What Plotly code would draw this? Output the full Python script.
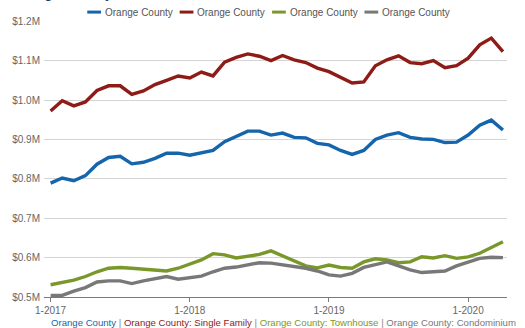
import plotly.graph_objects as go

months = list(range(40))
tick_vals = [0, 12, 24, 36]
tick_text = ["1-2017", "1-2018", "1-2019", "1-2020"]

y_vals = [0.5, 0.6, 0.7, 0.8, 0.9, 1.0, 1.1, 1.2]
y_text = ["$0.5M", "$0.6M", "$0.7M", "$0.8M", "$0.9M", "$1.0M", "$1.1M", "$1.2M"]

all_homes = [0.789, 0.802, 0.795, 0.808, 0.837, 0.854, 0.857, 0.838, 0.842, 0.852,
             0.865, 0.865, 0.860, 0.866, 0.872, 0.894, 0.907, 0.921, 0.921, 0.911,
             0.916, 0.905, 0.904, 0.890, 0.886, 0.872, 0.862, 0.872, 0.900, 0.911,
             0.917, 0.905, 0.901, 0.900, 0.892, 0.893, 0.911, 0.936, 0.949, 0.924]
single_family = [0.972, 0.998, 0.985, 0.995, 1.024, 1.036, 1.036, 1.014, 1.023, 1.039,
                 1.050, 1.061, 1.056, 1.071, 1.061, 1.096, 1.108, 1.117, 1.111, 1.100,
                 1.113, 1.102, 1.095, 1.081, 1.072, 1.057, 1.043, 1.046, 1.087, 1.102,
                 1.112, 1.095, 1.092, 1.100, 1.082, 1.087, 1.106, 1.140, 1.157, 1.123]
townhouse = [0.531, 0.536, 0.543, 0.552, 0.564, 0.573, 0.575, 0.573, 0.570, 0.569,
             0.566, 0.573, 0.584, 0.594, 0.610, 0.607, 0.599, 0.603, 0.608, 0.617,
             0.604, 0.592, 0.579, 0.574, 0.581, 0.575, 0.573, 0.589, 0.597, 0.594,
             0.587, 0.589, 0.602, 0.599, 0.605, 0.598, 0.602, 0.611, 0.625, 0.640]
condominium = [0.504, 0.504, 0.515, 0.524, 0.538, 0.541, 0.541, 0.534, 0.541, 0.546,
               0.552, 0.545, 0.550, 0.553, 0.564, 0.573, 0.576, 0.582, 0.587, 0.586,
               0.582, 0.576, 0.573, 0.566, 0.556, 0.553, 0.560, 0.575, 0.583, 0.589,
               0.579, 0.569, 0.562, 0.564, 0.566, 0.579, 0.589, 0.598, 0.601, 0.600]

names = ["Orange County", "Orange County", "Orange County", "Orange County"]
full_names = ["Orange County", "Orange County: Single Family",
              "Orange County: Townhouse", "Orange County: Condominium"]
colors = ["#1565ad", "#8e1b16", "#7a982a", "#787878"]
series = [all_homes, single_family, townhouse, condominium]

W, H = 525, 328
L, R, T, B = 36, 18, 21, 28.7
pw, ph = W - L - R, H - T - B


def px(x):
    return (x - L) / pw


def py(y):
    return (H - B - y) / ph


fig = go.Figure()
for vals, c, n in zip(series, colors, names):
    fig.add_trace(go.Scatter(x=months, y=vals, mode="lines", name=n,
                             line=dict(color=c, width=3.4), showlegend=False))

fig.update_layout(
    width=W, height=H, autosize=False,
    margin=dict(l=L, r=R, t=T, b=B),
    paper_bgcolor="white", plot_bgcolor="white",
    font=dict(family="Liberation Sans, Arial, sans-serif", size=10, color="#666666"),
    xaxis=dict(range=[-0.57, 39.35], tickvals=tick_vals, ticktext=tick_text,
               showgrid=False, zeroline=False, showline=True, linecolor="#7a7a7a",
               linewidth=1, ticks="outside", ticklen=4, tickcolor="#7a7a7a",
               ticklabelstandoff=0,
               tickfont=dict(size=10, color="#666666")),
    yaxis=dict(range=[0.5, 1.2005], tickvals=y_vals, ticktext=y_text,
               showgrid=True, gridcolor="#d4d4d4", gridwidth=1, zeroline=False,
               showline=False, ticks="", ticklabelstandoff=3,
               tickfont=dict(size=10, color="#666666")),
)

# custom legend
shapes = []
annotations = []
for k, (c, n) in enumerate(zip(colors, names)):
    x0 = 80 + 94 * k
    shapes.append(dict(type="line", xref="paper", yref="paper",
                       x0=px(x0), x1=px(x0 + 14), y0=py(12), y1=py(12),
                       line=dict(color=c, width=3)))
    annotations.append(dict(xref="paper", yref="paper", x=px(x0 + 16), y=py(12),
                            xanchor="left", yanchor="middle", showarrow=False,
                            text=n, font=dict(size=10, color="#555555")))

# title (mostly cut off at top)
annotations.append(dict(xref="paper", yref="paper", x=px(0), y=py(3),
                        xanchor="left", yanchor="bottom", showarrow=False,
                        text="Orange County", font=dict(size=15, color="#1f3a68")))

# bottom source line
sep = "<span style='color:#888888'> | </span>"
parts = [f"<span style='color:{c}'>{t}</span>" for c, t in zip(colors, full_names)]
annotations.append(dict(xref="paper", yref="paper", x=px(280), y=py(325),
                        xanchor="center", yanchor="middle", showarrow=False,
                        borderpad=0,
                        text=sep.join(parts), font=dict(size=9.6)))

fig.update_layout(shapes=shapes, annotations=annotations)
fig.write_html("out.html")
